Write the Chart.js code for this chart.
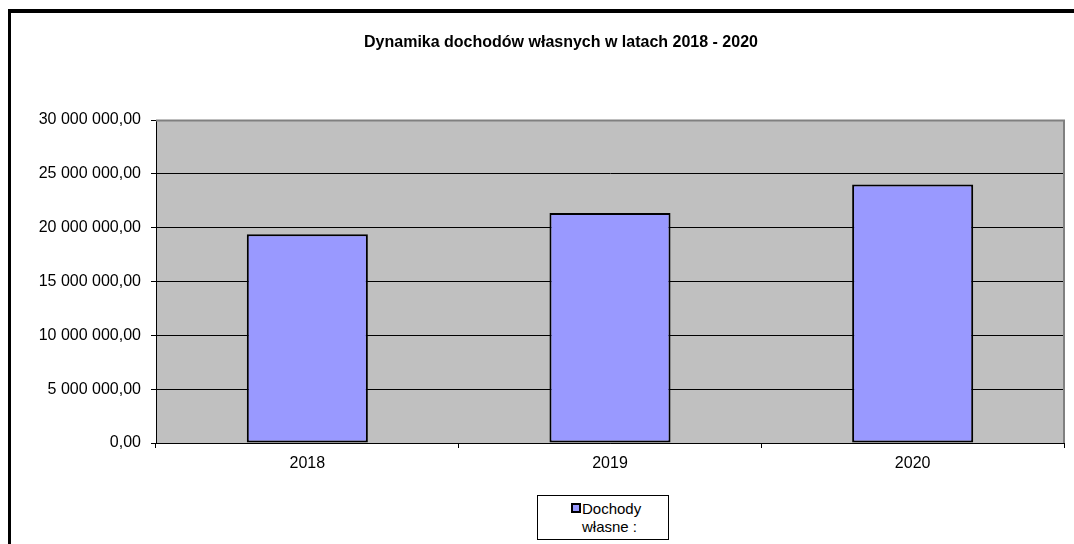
<!DOCTYPE html>
<html>
<head>
<meta charset="utf-8">
<script src="https://cdn.jsdelivr.net/npm/chart.js@4/dist/chart.umd.min.js"></script>
<style>
    body { margin: 0; background: #fff; width: 1074px; height: 544px; overflow: hidden; position: relative; }
    #frame { position: absolute; left: 8px; top: 9px; width: 1100px; height: 600px; border-left: 3px solid #000; border-top: 4px solid #000; }
    canvas { position: absolute; left: 0; top: 0; }
    #legend {
        position: absolute; left: 537px; top: 495px; width: 130px; height: 43px;
        border: 1px solid #000; background: #fff;
        font: 15px Arial, "Liberation Sans", sans-serif; color: #000; line-height: 18px;
    }
    #legend .line1 { position: absolute; left: 33px; top: 4px; }
    #legend .line2 { position: absolute; left: 44px; top: 22px; }
    #legend .box { display: inline-block; width: 6px; height: 6px; background: #9999FF; border: 2px solid #000; margin-right: 1px; vertical-align: 1px; }
</style>
</head>
<body>
<div id="frame"></div>
<canvas id="chart" width="1074" height="544"></canvas>
<div id="legend"><span class="line1"><span class="box"></span>Dochody</span><span class="line2">własne :</span></div>
<script>
// chart data
const years = ['2018', '2019', '2020'];
const ownIncome = [19390000, 21370000, 24000000];
const seriesName = 'Dochody własne :';
const chartTitle = 'Dynamika dochodów własnych w latach 2018 - 2020';
const yMax = 30000000;
const yStep = 5000000;

function formatPl(value) {
    // 30000000 -> "30 000 000,00"
    return Math.round(value).toString().replace(/\B(?=(\d{3})+(?!\d))/g, ' ') + ',00';
}

// grey plot background, grey top/right frame and the title (centred like the original)
const plotArea = {
    id: 'plotArea',
    beforeDraw(chart) {
        const { ctx, chartArea: a } = chart;
        ctx.save();
        ctx.fillStyle = '#C0C0C0';
        ctx.fillRect(a.left, a.top, a.right - a.left, a.bottom - a.top);
        ctx.restore();
    },
    afterDraw(chart) {
        const { ctx, chartArea: a } = chart;
        ctx.save();
        ctx.strokeStyle = '#808080';
        ctx.lineWidth = 2;
        ctx.beginPath();
        ctx.moveTo(a.left, a.top + 0.5);
        ctx.lineTo(a.right, a.top + 0.5);
        ctx.lineTo(a.right, a.bottom);
        ctx.stroke();

        ctx.fillStyle = '#000';
        ctx.font = 'bold 16px Arial, "Liberation Sans", sans-serif';
        ctx.textAlign = 'center';
        ctx.textBaseline = 'middle';
        ctx.fillText(chartTitle, 561, 43);
        ctx.restore();
    }
};

const font = { family: 'Arial, "Liberation Sans", sans-serif', size: 16 };

new Chart(document.getElementById('chart'), {
    type: 'bar',
    data: {
        labels: years,
        datasets: [{
            label: seriesName,
            data: ownIncome,
            backgroundColor: '#9999FF',
            borderColor: '#000000',
            borderWidth: 2,
            borderSkipped: false,
            categoryPercentage: 1,
            barPercentage: 0.4
        }]
    },
    options: {
        responsive: false,
        animation: false,
        layout: { padding: { left: 0, right: 10, top: 120, bottom: 0 } },
        plugins: {
            legend: { display: false },
            tooltip: { enabled: false },
            title: { display: false }
        },
        scales: {
            x: {
                offset: true,
                grid: { offset: true, drawOnChartArea: false, drawTicks: true, tickLength: 5, color: '#000' },
                border: { display: true, color: '#000', width: 1 },
                ticks: { color: '#000', font: font, padding: 6 },
                afterFit(scale) { scale.height = 101; }
            },
            y: {
                min: 0,
                max: yMax,
                ticks: {
                    stepSize: yStep,
                    color: '#000',
                    font: font,
                    padding: 10,
                    callback: v => formatPl(v)
                },
                grid: { color: '#000', lineWidth: 1, tickLength: 5 },
                border: { display: true, color: '#000', width: 1 },
                afterFit(scale) { scale.width = 156; }
            }
        }
    },
    plugins: [plotArea]
});
</script>
</body>
</html>
